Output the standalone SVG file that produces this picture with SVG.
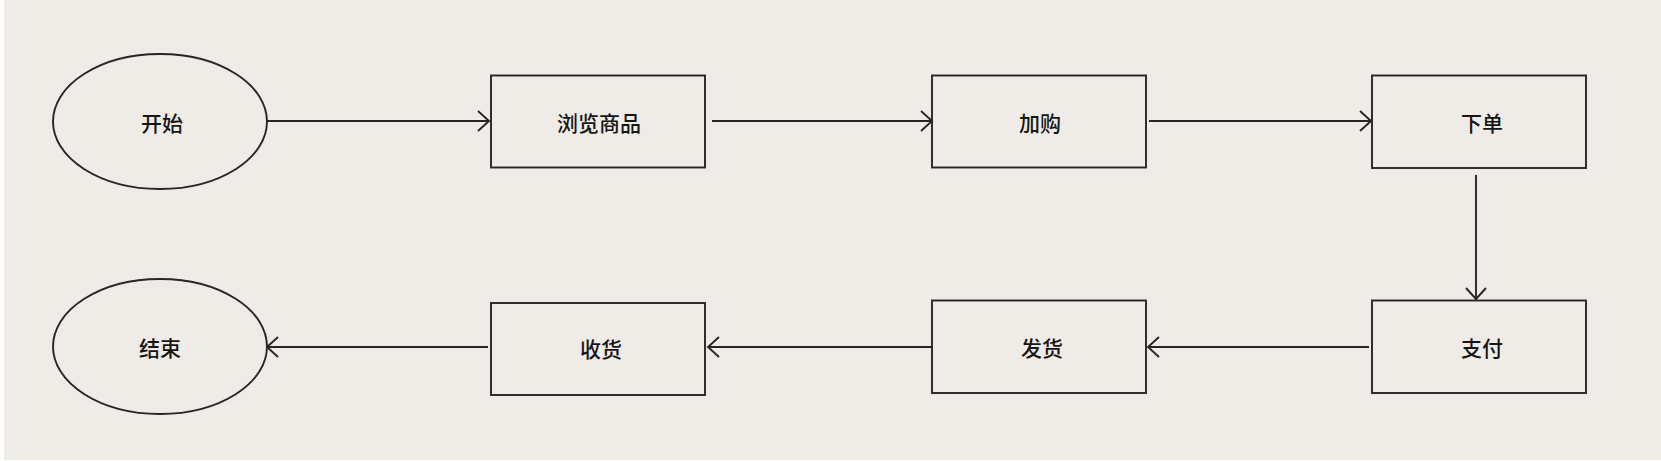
<svg xmlns="http://www.w3.org/2000/svg" width="1661" height="461" viewBox="0 0 1661 461">
<style>
.n{fill:none;stroke:#262626;stroke-width:1.9}
.c{fill:none;stroke:#262626;stroke-width:1.9}
.t{font-family:"Noto Sans CJK SC","Noto Sans",sans-serif;font-size:21px;font-weight:500;fill:#161616;text-anchor:middle;dominant-baseline:central}
</style>
<defs>
<marker id="ah" markerUnits="userSpaceOnUse" markerWidth="14" markerHeight="24" refX="12" refY="11" orient="auto">
<path d="M1,1 L12,11 L1,21" fill="none" stroke="#262626" stroke-width="1.9"/>
</marker>
</defs>
<rect x="0" y="0" width="1661" height="461" fill="#ffffff"/>
<rect x="4" y="0" width="1657" height="460" fill="#efece8"/>
<g id="connectors">
<line class="c" x1="267" y1="121" x2="489" y2="121" marker-end="url(#ah)"/>
<line class="c" x1="712" y1="121" x2="932" y2="121" marker-end="url(#ah)"/>
<line class="c" x1="1149" y1="121" x2="1371" y2="121" marker-end="url(#ah)"/>
<line class="c" x1="1476" y1="175" x2="1476" y2="299" marker-end="url(#ah)"/>
<line class="c" x1="1369" y1="347" x2="1148" y2="347" marker-end="url(#ah)"/>
<line class="c" x1="932" y1="347" x2="708" y2="347" marker-end="url(#ah)"/>
<line class="c" x1="488" y1="347" x2="267" y2="347" marker-end="url(#ah)"/>
</g>
<g id="start"><ellipse class="n" cx="160" cy="121.5" rx="107" ry="67.5"/><text class="t" x="162" y="122">开始</text></g>
<g id="browse"><rect class="n" x="491" y="75.5" width="214" height="92"/><text class="t" x="599" y="122">浏览商品</text></g>
<g id="cart"><rect class="n" x="932" y="75.5" width="214" height="92"/><text class="t" x="1040" y="122">加购</text></g>
<g id="order"><rect class="n" x="1372" y="75.5" width="214" height="92.5"/><text class="t" x="1482" y="122">下单</text></g>
<g id="pay"><rect class="n" x="1372" y="300.5" width="214" height="92.5"/><text class="t" x="1482" y="347">支付</text></g>
<g id="ship"><rect class="n" x="932" y="300.5" width="214" height="92.5"/><text class="t" x="1042" y="347">发货</text></g>
<g id="receive"><rect class="n" x="491" y="303" width="214" height="92"/><text class="t" x="601" y="348">收货</text></g>
<g id="end"><ellipse class="n" cx="160" cy="346.5" rx="107" ry="67.5"/><text class="t" x="160" y="347">结束</text></g>
</svg>
